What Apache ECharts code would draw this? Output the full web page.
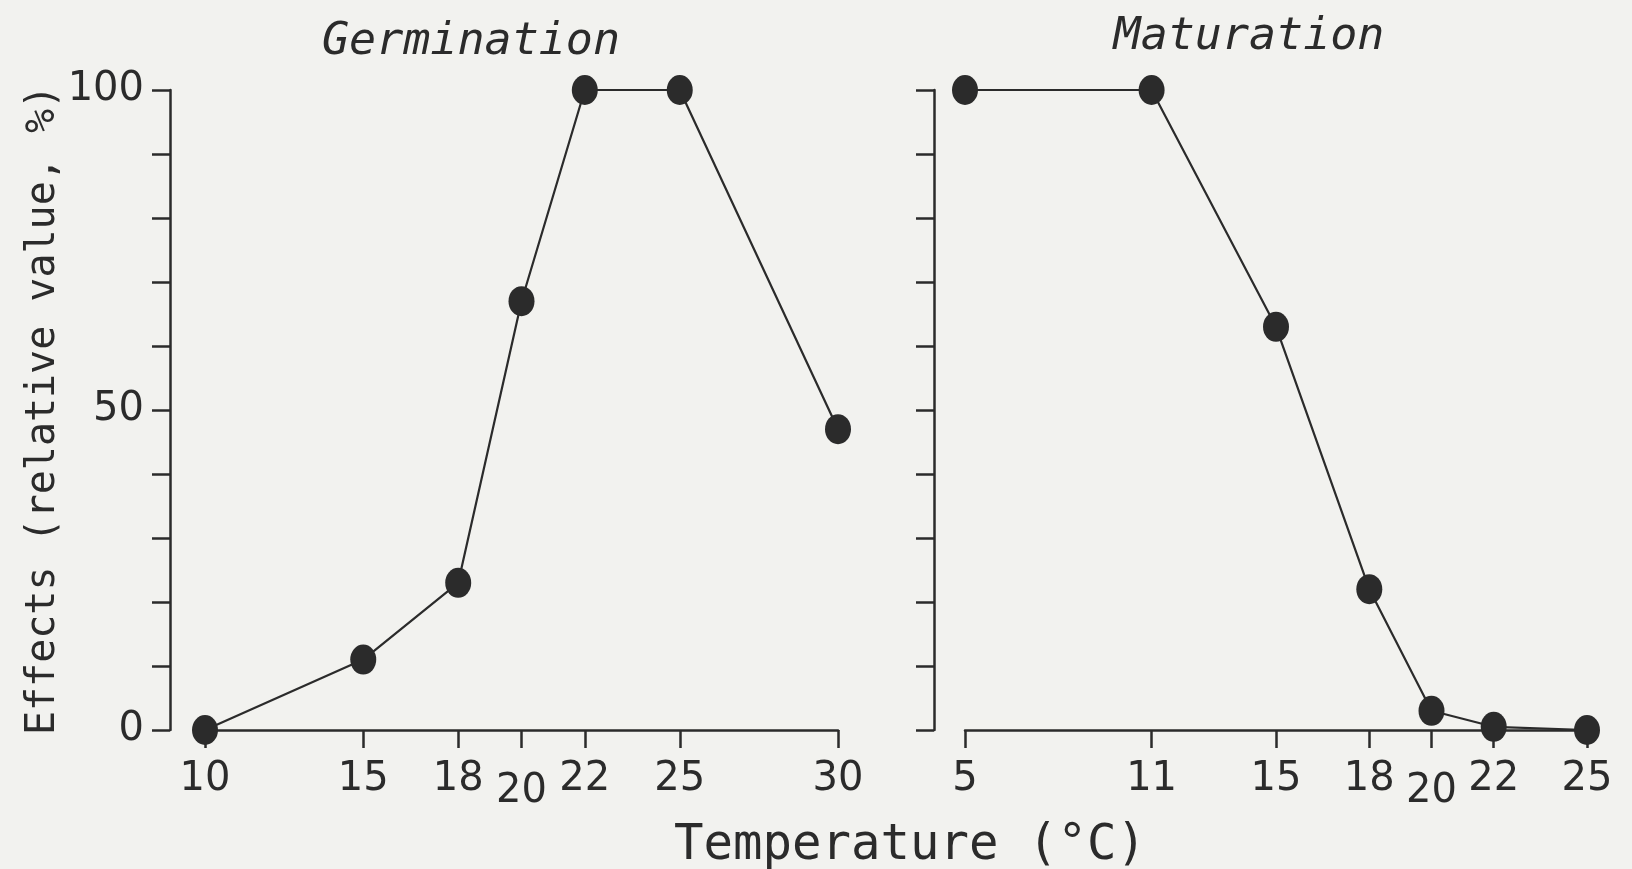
<!DOCTYPE html>
<html>
<head>
<meta charset="utf-8">
<script src="https://cdn.jsdelivr.net/npm/echarts@6/dist/echarts.min.js"></script>
<style>
html,body{margin:0;padding:0;background:#f2f2ef;}
#c{width:1632px;height:869px;}
</style>
</head>
<body>
<div id="c"></div>
<script>
// ---- data ----
const germTemps = [10, 15, 18, 20, 22, 25, 30];
const germValues = [0, 11, 23, 67, 100, 100, 47];
const matTemps = [5, 11, 15, 18, 20, 22, 25];
const matValues = [100, 100, 63, 22, 3, 0.5, 0];
const yLabelTicks = [0, 50, 100];
const germTitle = 'Germination';
const matTitle = 'Maturation';
const yName = 'Effects (relative value, %)';
const xName = 'Temperature (°C)';

const ink = '#2b2b2b';
const font = 'DejaVu Sans';
const mono = 'DejaVu Sans Mono';

function xAxisFor(gridIndex, min, max, ticks) {
  return {
    type: 'value', gridIndex, min, max,
    splitLine: {show: false},
    axisLine: {show: true, lineStyle: {color: ink, width: 2.5}},
    axisTick: {show: true, length: 18, customValues: ticks, lineStyle: {color: ink, width: 2.5}},
    axisLabel: {
      show: true, customValues: ticks, margin: 30,
      color: ink, fontFamily: font, fontSize: 40,
      formatter: v => (v === 20 ? '{low|' + v + '}' : '' + v),
      rich: {low: {fontFamily: font, fontSize: 40, color: ink, padding: [12, 0, 0, 0]}}
    }
  };
}
function yAxisFor(gridIndex, offset, showLabels) {
  return {
    type: 'value', gridIndex, min: 0, max: 100, interval: 10, offset,
    splitLine: {show: false},
    axisLine: {show: true, lineStyle: {color: ink, width: 2.5}},
    axisTick: {show: true, length: 18, lineStyle: {color: ink, width: 2.5}},
    axisLabel: {
      show: showLabels, margin: 26, color: ink, fontFamily: font, fontSize: 40,
      formatter: v => (yLabelTicks.indexOf(v) >= 0 ? '' + v : '')
    },
    name: showLabels ? yName : '',
    nameLocation: 'middle', nameGap: 105, nameRotate: 90,
    nameTextStyle: {color: ink, fontFamily: mono, fontSize: 40}
  };
}

const chart = echarts.init(document.getElementById('c'));
chart.setOption({
  backgroundColor: '#f2f2ef',
  animation: false,
  title: [
    {text: germTitle, left: 466, top: 37, textAlign: 'center', textVerticalAlign: 'middle',
     textStyle: {fontFamily: mono, fontStyle: 'italic', fontWeight: 'normal', fontSize: 45, color: ink}},
    {text: matTitle, left: 1244, top: 32, textAlign: 'center', textVerticalAlign: 'middle',
     textStyle: {fontFamily: mono, fontStyle: 'italic', fontWeight: 'normal', fontSize: 45, color: ink}},
    {text: xName, left: 905, top: 841, textAlign: 'center', textVerticalAlign: 'middle',
     textStyle: {fontFamily: mono, fontWeight: 'normal', fontSize: 49, color: ink}}
  ],
  grid: [
    {left: 205, top: 90, width: 633, height: 640},
    {left: 965, top: 90, width: 622, height: 640}
  ],
  xAxis: [xAxisFor(0, 10, 30, germTemps), xAxisFor(1, 5, 25, matTemps)],
  yAxis: [yAxisFor(0, 35, true), yAxisFor(1, 31, false)],
  series: [
    {type: 'line', xAxisIndex: 0, yAxisIndex: 0, data: germTemps.map((t, i) => [t, germValues[i]]),
     symbol: 'circle', symbolSize: [26, 30], clip: false,
     lineStyle: {color: ink, width: 2.2}, itemStyle: {color: ink}},
    {type: 'line', xAxisIndex: 1, yAxisIndex: 1, data: matTemps.map((t, i) => [t, matValues[i]]),
     symbol: 'circle', symbolSize: [26, 30], clip: false,
     lineStyle: {color: ink, width: 2.2}, itemStyle: {color: ink}}
  ]
});
</script>
</body>
</html>
